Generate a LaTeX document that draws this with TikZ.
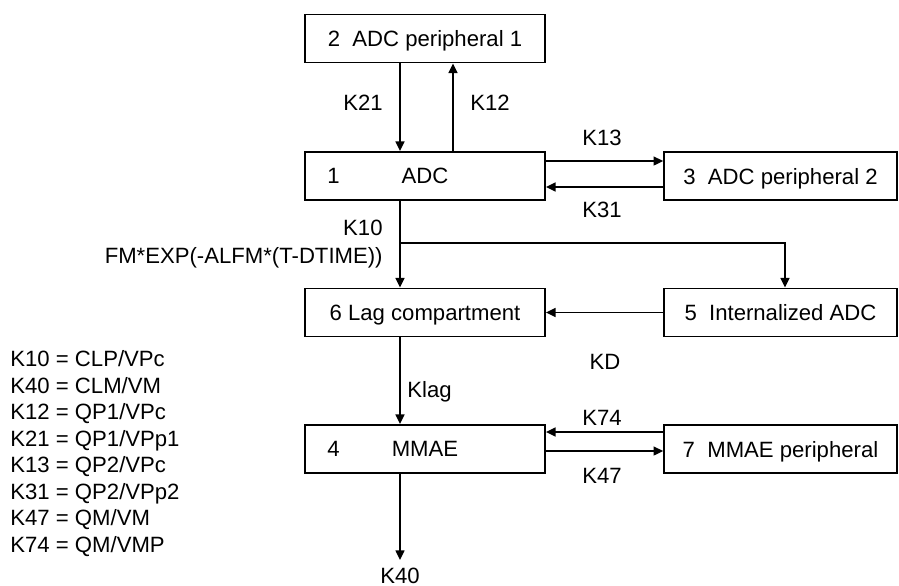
\documentclass[tikz,border=0pt]{standalone}
\usepackage{fontspec}
\setmainfont{Liberation Sans}
\usetikzlibrary{arrows.meta,calc}

\tikzset{
  comp/.style={draw, line width=0.9pt, minimum width=4cm, minimum height=0.8cm, inner sep=0pt,
    text depth=0pt},
  rcomp/.style={comp, minimum width=3.88cm},
  arr/.style={line width=0.9pt, -{Triangle[length=4.6pt,width=4.2pt]}},
  lbl/.style={inner sep=0pt}
}

\begin{document}
\begin{tikzpicture}[x=0.016685cm, y=-0.016685cm, font=\fontsize{10.5}{12.6}\selectfont]
\useasboundingbox (0,0) rectangle (899,585);

% compartments
\node [comp] (b2) at (425,38.5) {2\ \ ADC peripheral 1};
\node [comp] (b1) at (425,176) {ADC};
\node [lbl, anchor=west] (n1) at (327,176) {1};
\node [rcomp] (b3) at (780.5,176) {3\ \ ADC peripheral 2};
\node [comp] (b6) at (425,312.5) {6 Lag compartment};
\node [rcomp] (b5) at (780.5,312.5) {5\ \ Internalized ADC};
\node [comp] (b4) at (425,449) {MMAE};
\node [lbl, anchor=west] (n4) at (327,449) {4};
\node [rcomp] (b7) at (780.5,449) {7\ \ MMAE peripheral};

% helper coordinates
\coordinate (lft) at (400,0);
\coordinate (rgt) at (453,0);
\coordinate (h13) at (0,161);
\coordinate (h31) at (0,187);
\coordinate (h74) at (0,432);
\coordinate (h47) at (0,451);
\coordinate (br) at (785,243);
\coordinate (out) at (400,560);

% flows
\draw [arr] (lft |- b2.south) -- (lft |- b1.north);
\draw [arr] (rgt |- b1.north) -- (rgt |- b2.south);
\draw [arr] (b1.east |- h13) -- (b3.west |- h13);
\draw [arr] (b3.west |- h31) -- (b1.east |- h31);
\draw [arr] (lft |- b1.south) -- (lft |- b6.north);
\draw [arr] (lft |- br) -- (br) -- (br |- b5.north);
\draw [arr] (b5.west) -- (b6.east);
\draw [arr] (lft |- b6.south) -- (lft |- b4.north);
\draw [arr] (b7.west |- h74) -- (b4.east |- h74);
\draw [arr] (b4.east |- h47) -- (b7.west |- h47);
\draw [arr] (lft |- b4.south) -- (out);

% rate labels
\node [lbl] (k21) at (363,103) {K21};
\node [lbl] (k12) at (490,103) {K12};
\node [lbl] (k13) at (602,138) {K13};
\node [lbl] (k31) at (602,210) {K31};
\node [lbl, anchor=east] (k10) at (383,228) {K10};
\node [lbl, anchor=east] (fm) at (383,258) {FM*EXP(-ALFM*(T-DTIME))};
\node [lbl] (kd) at (605,362) {KD};
\node [lbl, anchor=west] (klag) at (407,392) {Klag};
\node [lbl] (k74) at (602,418) {K74};
\node [lbl] (k47) at (602,476) {K47};
\node [lbl] (k40) at (400,575.5) {K40};

% legend
\node [lbl, anchor=north west, align=left] (legend) at (10,350) {K10 = CLP/VPc\\K40 = CLM/VM\\K12 = QP1/VPc\\K21 = QP1/VPp1\\K13 = QP2/VPc\\K31 = QP2/VPp2\\K47 = QM/VM\\K74 = QM/VMP};
\end{tikzpicture}
\end{document}
